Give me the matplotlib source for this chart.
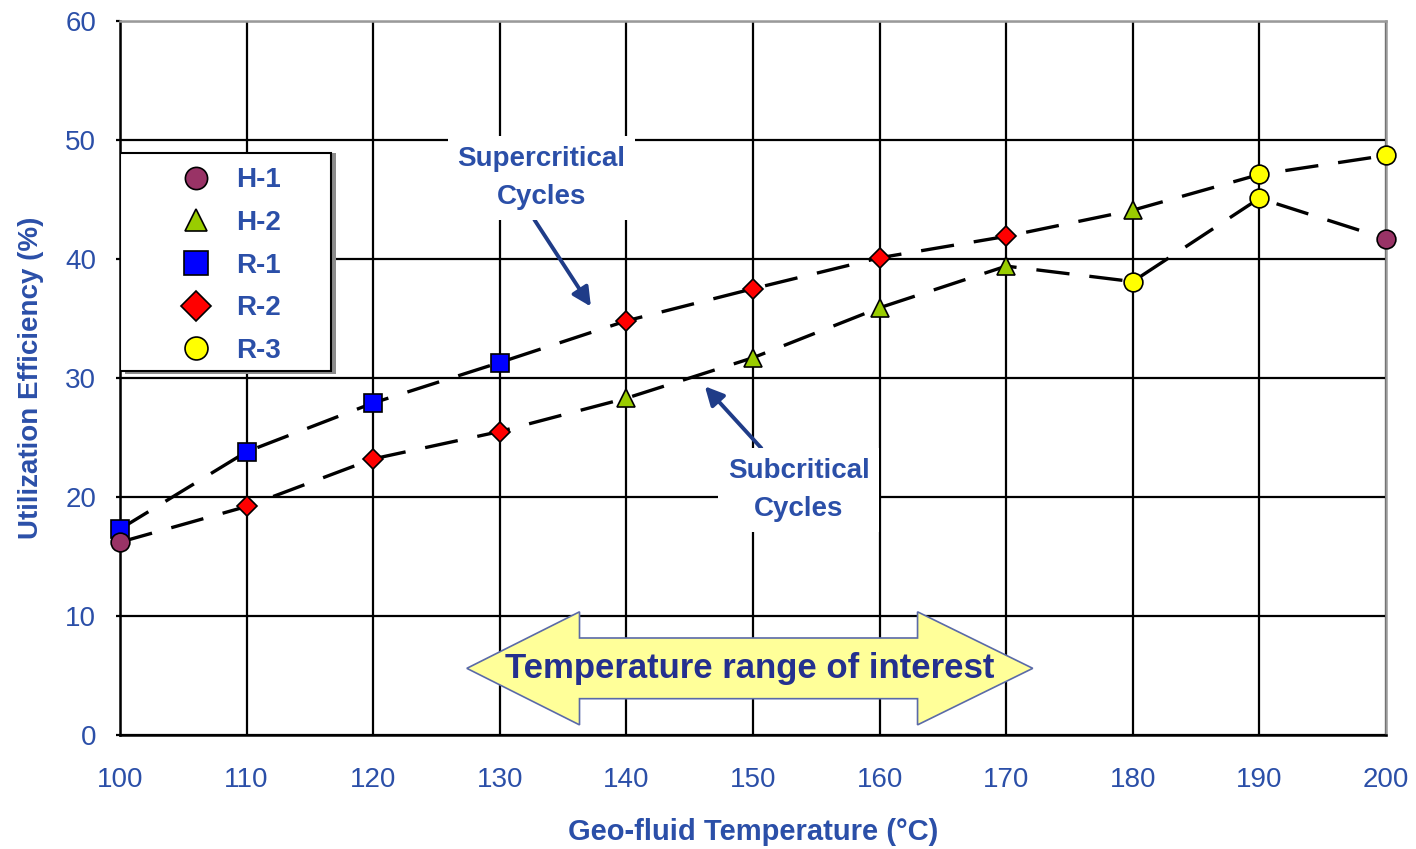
import matplotlib
matplotlib.use("Agg")
import matplotlib.pyplot as plt
from matplotlib.lines import Line2D
from matplotlib.patches import Polygon, Rectangle

plt.rcParams['font.family'] = ['Liberation Sans', 'DejaVu Sans']

temps = [100, 110, 120, 130, 140, 150, 160, 170, 180, 190, 200]
# supercritical (upper) and subcritical (lower) curves
super_eff = [17.3, 23.8, 27.9, 31.3, 34.8, 37.5, 40.1, 41.9, 44.1, 47.1, 48.7]
super_fluid = ['R-1', 'R-1', 'R-1', 'R-1', 'R-2', 'R-2', 'R-2', 'R-2', 'H-2', 'R-3', 'R-3']
sub_eff = [16.2, 19.2, 23.2, 25.5, 28.3, 31.7, 35.9, 39.4, 38.1, 45.1, 41.7]
sub_fluid = ['H-1', 'R-2', 'R-2', 'R-2', 'H-2', 'H-2', 'H-2', 'H-2', 'R-3', 'R-3', 'H-1']

fluids = ['H-1', 'H-2', 'R-1', 'R-2', 'R-3']
colors = {'H-1': '#993366', 'H-2': '#99cc00', 'R-1': '#0000ff', 'R-2': '#ff0000', 'R-3': '#ffff00'}
markers = {'H-1': 'o', 'H-2': '^', 'R-1': 's', 'R-2': 'D', 'R-3': 'o'}
sizes = {'H-1': 13.5, 'H-2': 13.5, 'R-1': 13.5, 'R-2': 10.5, 'R-3': 13.5}
leg_sizes = {'H-1': 16, 'H-2': 16, 'R-1': 17, 'R-2': 15, 'R-3': 16.5}

blue = '#2b4fa8'
navy = '#24308f'

fig = plt.figure(figsize=(14.16, 8.49), dpi=100)
ax = fig.add_axes([0.0847, 0.1343, 0.8941, 0.8410])

ax.set_xlim(100, 200)
ax.set_ylim(0, 60)
ax.set_xticks(temps)
ax.set_yticks(range(0, 61, 10))
ax.grid(True, color='black', lw=1.6, zorder=0)
ax.set_axisbelow(True)
for s in ['left', 'bottom']:
    ax.spines[s].set_linewidth(1.8)
for s in ['right', 'top']:
    ax.spines[s].set_color('#9a9a9a')
    ax.spines[s].set_linewidth(1.8)
ax.tick_params(axis='x', length=0, pad=23, labelsize=20, labelcolor=blue)
ax.tick_params(axis='y', length=3, width=1.6, pad=14, labelsize=20, labelcolor=blue)

ax.set_xlabel('Geo-fluid Temperature (°C)', fontsize=21, fontweight='bold', color=blue, labelpad=18)
ax.set_ylabel('Utilization Efficiency (%)', fontsize=20, fontweight='bold', color=blue, labelpad=15)

# dashed curves
for vals in (super_eff, sub_eff):
    ax.plot(temps, vals, color='black', lw=2.4, ls=(0, (10, 6)), zorder=3)

# markers by working fluid
for vals, kinds in ((super_eff, super_fluid), (sub_eff, sub_fluid)):
    for t, v, k in zip(temps, vals, kinds):
        ax.plot(t, v, marker=markers[k], ms=sizes[k], mfc=colors[k], mec='black',
                mew=1.2, ls='none', zorder=5, clip_on=False)

# legend frame with shadow
ax.add_patch(Rectangle((0.004, 0.505), 0.1667, 0.31, transform=ax.transAxes,
                       fc='#8c8c8c', ec='none', zorder=6))
ax.add_patch(Rectangle((0.0, 0.51), 0.1667, 0.305, transform=ax.transAxes,
                       fc='white', ec='black', lw=1.5, zorder=6))
handles = [Line2D([], [], marker=markers[f], ms=leg_sizes[f], mfc=colors[f], mec='black',
                  mew=1.2, ls='none') for f in fluids]
leg = ax.legend(handles, fluids, loc='upper left', bbox_to_anchor=(0.026, 0.826),
                frameon=False, handlelength=1.5, handletextpad=0.7, borderpad=0.3,
                labelspacing=0.6, prop={'size': 20, 'weight': 'bold'}, labelcolor=blue)
leg.set_zorder(7)

# annotations
ax.annotate('Supercritical\nCycles', xy=(137.2, 36.0), xytext=(133.3, 46.8),
            ha='center', va='center', fontsize=20, fontweight='bold', color=blue,
            linespacing=1.6,
            bbox=dict(boxstyle='square,pad=0.35', fc='white', ec='none'),
            arrowprops=dict(arrowstyle='-|>', mutation_scale=28, lw=2.8, color='#1f3c88',
                            shrinkA=0, shrinkB=0, relpos=(0.42, 0.0)),
            zorder=6)
ax.annotate('Subcritical\nCycles', xy=(146.2, 29.3), xytext=(153.6, 20.6),
            ha='center', va='center', fontsize=20, fontweight='bold', color=blue,
            linespacing=1.6,
            bbox=dict(boxstyle='square,pad=0.35', fc='white', ec='none'),
            arrowprops=dict(arrowstyle='-|>', mutation_scale=28, lw=2.8, color='#1f3c88',
                            shrinkA=0, shrinkB=0, relpos=(0.3, 1.0)),
            zorder=6)

# temperature range double arrow
x0, x1 = 127.4, 172.1
hx0, hx1 = 136.3, 163.0
yc, sh, hh = 5.6, 2.55, 4.75
arrow = Polygon([(x0, yc), (hx0, yc + hh), (hx0, yc + sh), (hx1, yc + sh), (hx1, yc + hh),
                 (x1, yc), (hx1, yc - hh), (hx1, yc - sh), (hx0, yc - sh), (hx0, yc - hh)],
                closed=True, fc='#ffff99', ec='#5a6aa8', lw=1.2, zorder=6)
ax.add_patch(arrow)
ax.text((x0 + x1) / 2, yc, 'Temperature range of interest', ha='center', va='center',
        fontsize=25, fontweight='bold', color=navy, zorder=7)

fig.savefig('out.png', dpi=100)
